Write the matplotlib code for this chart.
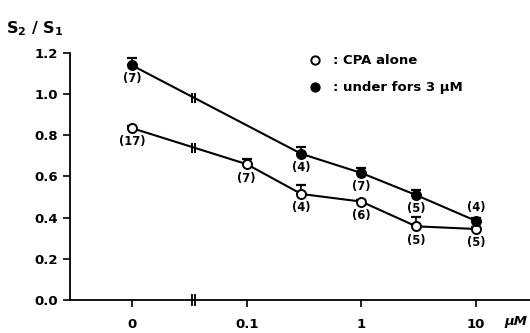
import numpy as np
import matplotlib
matplotlib.use("Agg")
import matplotlib.pyplot as plt

# concentrations (uM); 0 is drawn on a broken log axis
conc_cpa = [0, 0.1, 0.3, 1, 3, 10]
ratio_cpa = [0.835, 0.66, 0.515, 0.478, 0.358, 0.345]
err_cpa = [0.012, 0.025, 0.045, 0.008, 0.045, 0.008]
n_cpa = ["(17)", "(7)", "(4)", "(6)", "(5)", "(5)"]

conc_fors = [0, 0.3, 1, 3, 10]
ratio_fors = [1.14, 0.71, 0.617, 0.51, 0.384]
err_fors = [0.035, 0.035, 0.022, 0.025, 0.016]
n_fors = ["(7)", "(4)", "(7)", "(5)", "(4)"]
n_fors_above = [False, False, False, False, True]

tick_conc = [0, 0.1, 1, 10]
tick_labels = ["0", "0.1", "1", "10"]
zero_pos = -2.0     # where "0" sits on the log axis
break_pos = -1.46   # axis break between 0 and 0.1


def pos(c):
    c = np.asarray(c, dtype=float)
    out = np.full(c.shape, zero_pos)
    nz = c > 0
    out[nz] = np.log10(c[nz])
    return out


plt.rcParams['font.family'] = ['DejaVu Sans']
plt.rcParams['font.weight'] = 'bold'

fig = plt.figure(figsize=(5.3, 3.33), dpi=100)
ax = fig.add_axes([0.132, 0.099, 0.868, 0.742])

for conc, ratio, err, face in [(conc_cpa, ratio_cpa, err_cpa, 'white'),
                               (conc_fors, ratio_fors, err_fors, 'black')]:
    x = pos(conc)
    ax.plot(x, ratio, color='black', lw=1.5, zorder=2)
    ax.errorbar(x, ratio, yerr=[np.zeros(len(err)), err], fmt='none',
                ecolor='black', elinewidth=1.2, capsize=3.5, capthick=1.6,
                zorder=3)
    ax.plot(x, ratio, ls='none', marker='o', ms=6.5, mfc=face, mec='black',
            mew=1.4, zorder=4)
    # break marks on the line
    yb = np.interp(break_pos, x[:2], ratio[:2])
    ax.plot([break_pos - 0.012, break_pos + 0.012], [yb, yb], ls='none',
            marker='|', ms=7, mew=1.4, color='black', zorder=4)

# sample sizes
for c, r, lab in zip(conc_cpa, ratio_cpa, n_cpa):
    ax.annotate(lab, (pos([c])[0], r), xytext=(0, -10), textcoords='offset points',
                ha='center', va='center', fontsize=8.3)
for c, r, lab, above in zip(conc_fors, ratio_fors, n_fors, n_fors_above):
    ax.annotate(lab, (pos([c])[0], r), xytext=(0, 9.5 if above else -9.5),
                textcoords='offset points', ha='center', va='center', fontsize=8.3)

ax.set_xlim(-2.54, 1.47)
ax.set_ylim(0, 1.2)
ax.set_yticks(np.arange(0, 1.21, 0.2))
ax.set_yticklabels([f"{v:.1f}" for v in np.arange(0, 1.21, 0.2)])
ax.set_xticks(pos(tick_conc))
ax.set_xticklabels(tick_labels)
ax.spines['top'].set_visible(False)
ax.spines['right'].set_visible(False)
ax.spines['left'].set_linewidth(1.3)
ax.spines['bottom'].set_linewidth(1.3)
ax.tick_params(direction='out', length=5, width=1.2, labelsize=9.5)
ax.tick_params(axis='x', pad=8)

# axis break on x axis
ax.plot([break_pos - 0.014, break_pos + 0.014], [0, 0], ls='none', marker='|',
        ms=9, mew=1.3, color='black', clip_on=False, zorder=5)

ax.text(0.993, -0.085, "\u03bcM", transform=ax.transAxes, ha='right', va='center',
        fontsize=9.5, style='italic')

# legend drawn by hand
ax.plot([0.533], [0.97], transform=ax.transAxes, marker='o', ms=6, mfc='white',
        mec='black', mew=1.4, clip_on=False)
ax.plot([0.533], [0.862], transform=ax.transAxes, marker='o', ms=6, mfc='black',
        mec='black', mew=1.4, clip_on=False)
ax.text(0.572, 0.97, ": CPA alone", transform=ax.transAxes, va='center', fontsize=9.5)
ax.text(0.572, 0.862, ": under fors 3 \u03bcM", transform=ax.transAxes, va='center',
        fontsize=9.5)

fig.text(0.012, 0.915, r"S$_2$ / S$_1$", fontsize=11.5, ha='left', va='center')

fig.savefig("out.png", dpi=100)
